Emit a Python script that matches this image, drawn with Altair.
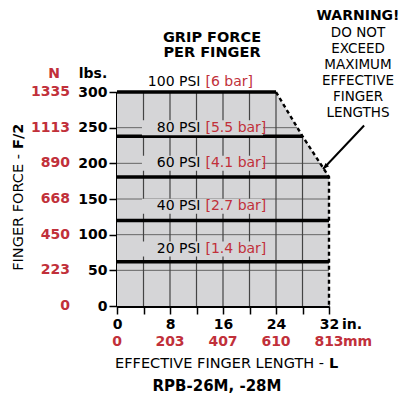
import altair as alt
import pandas as pd
import numpy as np

# ---------------- data ----------------
psi = [100, 80, 60, 40, 20]
bar = ["6", "5.5", "4.1", "2.7", "1.4"]
force_lbs = [300, 238, 181, 120, 62]
max_len_in = [24, 28, 32, 32, 32]
label_lbs = [314, 250, 200, 140, 80]

y_ticks_lbs = [0, 50, 100, 150, 200, 250, 300]
y_ticks_N = ["0", "223", "450", "668", "890", "1113", "1335"]
x_ticks_in = [0, 8, 16, 24, 32]
x_ticks_mm = ["0", "203", "407", "610", "813"]
x_grid_in = [4, 8, 12, 16, 20, 24, 28]
y_grid_lbs = [50, 100, 150, 200, 250]
arrow_x = [37.3, 31.1]
arrow_y = [253, 192]

RED = "#c1303a"
GRAY = "#d5d5d7"
FONT = "DejaVu Sans"
FS = 14
W, H = 212, 214

# boundary of the admissible region (max length per force)
bx, by = [0], [force_lbs[0]]
for L, F in zip(max_len_in, force_lbs):
    if L not in bx:
        bx.append(L)
        by.append(F)
area_df = pd.DataFrame({"x": bx, "y": by, "y0": 0})
outline_df = pd.DataFrame({"x": bx[1:] + [bx[-1]], "y": by[1:] + [0], "o": list(range(len(bx)))})


def bound_x(y):
    return float(np.interp(y, by[::-1][:-1], bx[::-1][:-1])) if y > by[-1] else float(bx[-1])


hgrid = pd.DataFrame({"y": y_grid_lbs, "x": 0, "x2": [bound_x(v) for v in y_grid_lbs]})
vgrid = pd.DataFrame({"x": x_grid_in, "y": 0, "y2": [float(np.interp(v, bx, by)) for v in x_grid_in]})

lines_df = pd.DataFrame({"x": 0, "x2": max_len_in, "y": force_lbs})
lab_df = pd.DataFrame({
    "y": label_lbs,
    "psi": [f"{p} PSI" for p in psi],
    "bar": [f"[{b} bar]" for b in bar],
    "x": 12.9,
    "bg": [i > 0 for i in range(len(psi))],
})

x_axis = alt.Axis(values=list(range(0, 33, 4)),
                  labelExpr="datum.value % 8 == 0 ? datum.label : ''",
                  labelFont=FONT, labelFontSize=FS, labelFontWeight="bold", labelColor="black",
                  tickSize=8, tickColor="black", tickWidth=1.5,
                  domainColor="black", domainWidth=3, labelPadding=3,
                  labelOverlap=False, labelFlush=False, grid=False, title=None)
y_axis = alt.Axis(values=y_ticks_lbs, labelFont=FONT, labelFontSize=FS, labelFontWeight="bold",
                  labelColor="black", tickSize=8, tickColor="black", tickWidth=1.5,
                  domainColor="black", domainWidth=3, labelPadding=2,
                  labelOverlap=False, labelFlush=False, grid=False, title=None)
xsc = alt.Scale(domain=[0, 32], nice=False)
ysc = alt.Scale(domain=[0, 300], nice=False)


def X(f="x"):
    return alt.X(f"{f}:Q", scale=xsc, axis=x_axis)


def Y(f="y"):
    return alt.Y(f"{f}:Q", scale=ysc, axis=y_axis)


area = alt.Chart(area_df).mark_area(color=GRAY, opacity=1, interpolate="linear").encode(
    x=X(), y=Y(), y2="y0")

hg = alt.Chart(hgrid).mark_rule(color="#666", strokeWidth=1).encode(x=X(), x2="x2", y=Y())
vg = alt.Chart(vgrid).mark_rule(color="#444", strokeWidth=1.2).encode(x=X(), y=Y(), y2="y2")

outline = alt.Chart(outline_df).mark_line(color="black", strokeWidth=2.4, strokeDash=[4, 3]).encode(
    x=X(), y=Y(), order="o:Q")

plines = alt.Chart(lines_df).mark_rule(color="black", strokeWidth=3.5).encode(x=X(), x2="x2", y=Y())

bg = alt.Chart(lab_df).transform_filter("datum.bg").mark_rect(color=GRAY, width=121, height=15).encode(
    x=X(), y=Y())
t_psi = alt.Chart(lab_df).mark_text(font=FONT, fontSize=FS, align="right", dx=-2, color="black").encode(
    x=X(), y=Y(), text="psi:N")
t_bar = alt.Chart(lab_df).mark_text(font=FONT, fontSize=FS, align="left", dx=3, color=RED).encode(
    x=X(), y=Y(), text="bar:N")

yN = alt.Chart(pd.DataFrame({"y": y_ticks_lbs, "t": y_ticks_N})).mark_text(
    font=FONT, fontSize=FS, fontWeight="bold", color=RED, align="right").encode(
    x=alt.value(-47), y=Y(), text="t:N")
xmm = alt.Chart(pd.DataFrame({"x": x_ticks_in, "t": x_ticks_mm})).mark_text(
    font=FONT, fontSize=FS, fontWeight="bold", color=RED, align="center").encode(
    x=X(), y=alt.value(250), text="t:N")
unit_in = alt.Chart(pd.DataFrame({"x": [x_ticks_in[-1]], "t": ["in."]})).mark_text(
    font=FONT, fontSize=FS, fontWeight="bold", color="black", align="left", dx=13).encode(
    x=X(), y=alt.value(233), text="t:N")
unit_mm = alt.Chart(pd.DataFrame({"x": [x_ticks_in[-1]], "t": ["mm"]})).mark_text(
    font=FONT, fontSize=FS, fontWeight="bold", color=RED, align="left", dx=14).encode(
    x=X(), y=alt.value(250), text="t:N")


def txt(t, x, y, color="black", weight="normal", align="center", size=FS, angle=0, dx=0):
    return alt.Chart(pd.DataFrame({"t": [t]})).mark_text(
        font=FONT, fontSize=size, fontWeight=weight, color=color, align=align, angle=angle,
        baseline="middle", dx=dx).encode(x=alt.value(x), y=alt.value(y), text="t:N")


ann = [
    txt("N", -63, -18, RED, "bold", size=14),
    txt("lbs.", -24, -18, "black", "bold"),
    txt("GRIP FORCE", 95, -54, weight="bold", size=14.5),
    txt("PER FINGER", 95, -39, weight="bold", size=14.5),
    txt("FINGER FORCE -", -98, 62, align="right", angle=270, size=14.5),
    txt("F/2", -98, 62, weight="bold", align="left", angle=270, dx=5, size=14.5),
    txt("EFFECTIVE FINGER LENGTH -", 207, 272, align="right", size=14.5),
    txt("L", 207, 272, weight="bold", align="left", dx=5, size=14.5),
    txt("RPB-26M, -28M", 100, 294, weight="bold", size=15),
]
warn = ["WARNING!", "DO NOT", "EXCEED", "MAXIMUM", "EFFECTIVE", "FINGER", "LENGTHS"]
warn_y = [-76, -59, -43, -27, -11, 5, 21]
for i, (w, yy) in enumerate(zip(warn, warn_y)):
    ann.append(txt(w, 241, yy, weight="bold" if i == 0 else "normal", size=14 if i == 0 else 13.5))

arrow_df = pd.DataFrame({"x": arrow_x, "y": arrow_y, "o": [0, 1]})
arrow = alt.Chart(arrow_df).mark_line(color="black", strokeWidth=2).encode(x=X(), y=Y(), order="o:Q")
head = alt.Chart(arrow_df.iloc[[1]]).mark_point(
    shape="M0,0 L-0.4,1 L0.4,1 Z", filled=True, color="black", opacity=1, size=150, angle=224).encode(
    x=X(), y=Y())

chart = alt.layer(area, hg, vg, outline, plines, bg, t_psi, t_bar, yN, xmm, unit_in, unit_mm,
                  arrow, head, *ann).properties(
    width=W, height=H,
    autosize=alt.AutoSizeParams(type="none"),
    padding={"left": 109, "top": 84, "right": 72, "bottom": 88},
).configure_view(strokeWidth=0)

chart.save("out.html", embed_options={"renderer": "svg", "actions": False})
